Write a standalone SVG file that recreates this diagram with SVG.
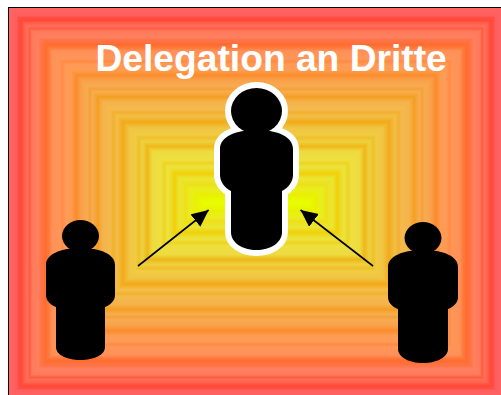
<svg xmlns="http://www.w3.org/2000/svg" xmlns:xlink="http://www.w3.org/1999/xlink" width="501" height="395" viewBox="0 0 501 395">
<style>
.bg{shape-rendering:crispEdges}
.title{font-family:"Liberation Sans",Arial,sans-serif;font-weight:bold;font-size:37.2px;fill:#fff}
.conn{stroke:#000;stroke-width:1.6;fill:none;marker-end:url(#head)}
.p{fill:#000}
.halo{fill:#fff;stroke:#fff;stroke-width:12;stroke-linejoin:round}
</style>
<defs>
<marker id="head" markerUnits="userSpaceOnUse" markerWidth="20" markerHeight="18" refX="17" refY="8" orient="auto">
<path d="M0 0L17 8L0 16Z" fill="#000"/>
</marker>
<linearGradient id="ramp" gradientUnits="userSpaceOnUse">
<stop offset="0" stop-color="#ff6464"/>
<stop offset=".04" stop-color="#ff5e5e"/>
<stop offset=".05" stop-color="#ff4c40"/>
<stop offset=".065" stop-color="#ff4a38"/>
<stop offset=".08" stop-color="#ff6450"/>
<stop offset=".095" stop-color="#ff6e58"/>
<stop offset=".105" stop-color="#ff5c40"/>
<stop offset=".12" stop-color="#ff7a5c"/>
<stop offset=".15" stop-color="#ff8060"/>
<stop offset=".165" stop-color="#ff7448"/>
<stop offset=".19" stop-color="#ff6c30"/>
<stop offset=".205" stop-color="#ff7a3c"/>
<stop offset=".22" stop-color="#ff9058"/>
<stop offset=".26" stop-color="#ff9658"/>
<stop offset=".275" stop-color="#ff8c44"/>
<stop offset=".29" stop-color="#ff9a58"/>
<stop offset=".32" stop-color="#fd9c50"/>
<stop offset=".345" stop-color="#fb8c2c"/>
<stop offset=".37" stop-color="#f9a04a"/>
<stop offset=".40" stop-color="#f7ac52"/>
<stop offset=".415" stop-color="#f6a038"/>
<stop offset=".43" stop-color="#f7ae50"/>
<stop offset=".455" stop-color="#f59e22"/>
<stop offset=".48" stop-color="#f5b24c"/>
<stop offset=".52" stop-color="#f4ba4c"/>
<stop offset=".535" stop-color="#f3b030"/>
<stop offset=".555" stop-color="#f3be48"/>
<stop offset=".585" stop-color="#f2aa18"/>
<stop offset=".615" stop-color="#f1c444"/>
<stop offset=".65" stop-color="#efcc42"/>
<stop offset=".665" stop-color="#f0c02a"/>
<stop offset=".685" stop-color="#eed040"/>
<stop offset=".71" stop-color="#efb818"/>
<stop offset=".735" stop-color="#eeda40"/>
<stop offset=".78" stop-color="#ede040"/>
<stop offset=".795" stop-color="#efd420"/>
<stop offset=".815" stop-color="#ece440"/>
<stop offset=".85" stop-color="#f0d008"/>
<stop offset=".875" stop-color="#ebe634"/>
<stop offset=".905" stop-color="#eee018"/>
<stop offset=".93" stop-color="#e9ee20"/>
<stop offset=".96" stop-color="#e9f000"/>
<stop offset="1" stop-color="#e8ff00"/>
</linearGradient>
<linearGradient id="gT" href="#ramp" xlink:href="#ramp" gradientUnits="userSpaceOnUse" x1="0" y1="8" x2="0" y2="203"/>
<linearGradient id="gB" href="#ramp" xlink:href="#ramp" gradientUnits="userSpaceOnUse" x1="0" y1="398" x2="0" y2="203"/>
<linearGradient id="gL" href="#ramp" xlink:href="#ramp" gradientUnits="userSpaceOnUse" x1="9" y1="0" x2="204" y2="0"/>
<linearGradient id="gR" href="#ramp" xlink:href="#ramp" gradientUnits="userSpaceOnUse" x1="503" y1="0" x2="308" y2="0"/>
<ellipse id="cHead" cx="256.5" cy="111" rx="25.5" ry="23"/>
<path id="cBody" d="M256.5 130C278 130 293 137 293 149V175C293 182 288 188 282 191V232C282 243 270 250 256.5 250C243 250 231 243 231 232V191C225 188 220 182 220 175V149C220 137 235 130 256.5 130Z"/>
</defs>
<rect width="501" height="395" fill="#fff"/>
<g id="background" class="bg">
<rect x="7.5" y="6.5" width="500" height="395" fill="#000"/>
<polygon points="9,8 503,8 308,203 204,203" fill="url(#gT)"/>
<polygon points="9,398 503,398 308,203 204,203" fill="url(#gB)"/>
<polygon points="9,8 204,203 9,398" fill="url(#gL)"/>
<polygon points="503,8 308,203 503,398" fill="url(#gR)"/>
</g>
<g id="connectors">
<line class="conn" x1="138" y1="266" x2="208.7" y2="210"/>
<line class="conn" x1="373" y1="266" x2="300.5" y2="210"/>
</g>
<g id="person-left">
<ellipse class="p" cx="80.5" cy="236" rx="18.5" ry="16"/>
<path class="p" d="M80.5 248C100 248 115 254 115 265V295C115 301 110 305 105 307V347C105 355 94 360 80.5 360C67 360 56 355 56 347V307C51 305 46 301 46 295V265C46 254 61 248 80.5 248Z"/>
</g>
<g id="person-right">
<ellipse class="p" cx="423" cy="238" rx="18.5" ry="16"/>
<path class="p" d="M423 250C443 250 458 256 458 267V297C458 303 453 307 448 309V349C448 357 437 363 423 363C409 363 398 357 398 349V309C393 307 388 303 388 297V267C388 256 403 250 423 250Z"/>
</g>
<g id="person-center">
<use href="#cHead" xlink:href="#cHead" class="halo"/>
<use href="#cBody" xlink:href="#cBody" class="halo"/>
<use href="#cHead" xlink:href="#cHead" class="p"/>
<use href="#cBody" xlink:href="#cBody" class="p"/>
</g>
<g id="title">
<text class="title" x="95.5" y="71">Delegation an Dritte</text>
</g>
</svg>
